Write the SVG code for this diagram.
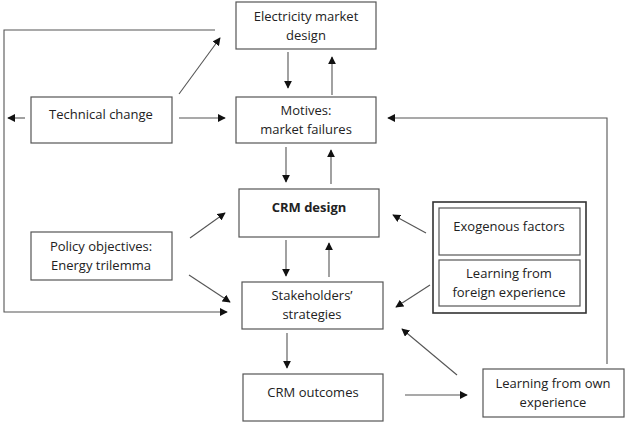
<svg xmlns="http://www.w3.org/2000/svg" width="625" height="422" viewBox="0 0 625 422">
<style>
.box{fill:#fff;stroke:#555;stroke-width:1.2}
.t{font-family:"Open Sans","Liberation Sans",sans-serif;font-size:13px;fill:#222;text-anchor:middle}
.b{font-weight:bold}
.c{fill:none;stroke:#555;stroke-width:1.1}
</style>
<defs>
<marker id="ah" viewBox="0 0 10 10" refX="9" refY="5" markerWidth="8" markerHeight="8" markerUnits="userSpaceOnUse" orient="auto">
<path d="M0,0 L10,5 L0,10 Z" fill="#111"/>
</marker>
</defs>
<rect width="625" height="422" fill="#fff"/>
<g id="connectors">
<path class="c" d="M288,52 V88" marker-end="url(#ah)"/>
<path class="c" d="M332,95 V57" marker-end="url(#ah)"/>
<path class="c" d="M25,118 H8" marker-end="url(#ah)"/>
<path class="c" d="M179,118 H225" marker-end="url(#ah)"/>
<path class="c" d="M179,94 L220,38" marker-end="url(#ah)"/>
<path class="c" d="M215,30 H4 V312 H227" marker-end="url(#ah)"/>
<path class="c" d="M607,364 V118 H388" marker-end="url(#ah)"/>
<path class="c" d="M286,147 V182" marker-end="url(#ah)"/>
<path class="c" d="M331,184 V150" marker-end="url(#ah)"/>
<path class="c" d="M286,240 V276" marker-end="url(#ah)"/>
<path class="c" d="M329,277 V243" marker-end="url(#ah)"/>
<path class="c" d="M426,233 L393,215" marker-end="url(#ah)"/>
<path class="c" d="M430,285 L396,307" marker-end="url(#ah)"/>
<path class="c" d="M457,375 L402,329" marker-end="url(#ah)"/>
<path class="c" d="M190,238 L225,213" marker-end="url(#ah)"/>
<path class="c" d="M189,275 L230,302" marker-end="url(#ah)"/>
<path class="c" d="M287,333 V368" marker-end="url(#ah)"/>
<path class="c" d="M405,395 H467" marker-end="url(#ah)"/>
</g>
<g id="emd"><rect class="box" x="236" y="2" width="140" height="47"/>
<text class="t" x="306" y="21">Electricity market</text><text class="t" x="306" y="40">design</text></g>
<g id="tech"><rect class="box" x="31" y="97" width="141" height="46"/>
<text class="t" x="101" y="119">Technical change</text></g>
<g id="motives"><rect class="box" x="236" y="97" width="140" height="46"/>
<text class="t" x="306" y="115">Motives:</text><text class="t" x="306" y="134">market failures</text></g>
<g id="crm"><rect class="box" x="239" y="189" width="140" height="48"/>
<text class="t b" x="309" y="212">CRM design</text></g>
<g id="policy"><rect class="box" x="31" y="232" width="141" height="48"/>
<text class="t" x="101" y="251">Policy objectives:</text><text class="t" x="101" y="270">Energy trilemma</text></g>
<g id="stake"><rect class="box" x="242" y="282" width="141" height="47"/>
<text class="t" x="312" y="300">Stakeholders’</text><text class="t" x="312" y="319">strategies</text></g>
<g id="exo-group"><rect x="433" y="202" width="153" height="111" fill="#fff" stroke="#333" stroke-width="1.6"/></g>
<g id="exo"><rect class="box" x="439" y="208" width="141" height="47"/>
<text class="t" x="509" y="231">Exogenous factors</text></g>
<g id="foreign"><rect class="box" x="439" y="260" width="141" height="46"/>
<text class="t" x="509" y="278">Learning from</text><text class="t" x="509" y="297">foreign experience</text></g>
<g id="outcomes"><rect class="box" x="243" y="374" width="140" height="47"/>
<text class="t" x="313" y="397">CRM outcomes</text></g>
<g id="own"><rect class="box" x="483" y="369" width="141" height="48"/>
<text class="t" x="553" y="388">Learning from own</text><text class="t" x="553" y="407">experience</text></g>
</svg>
